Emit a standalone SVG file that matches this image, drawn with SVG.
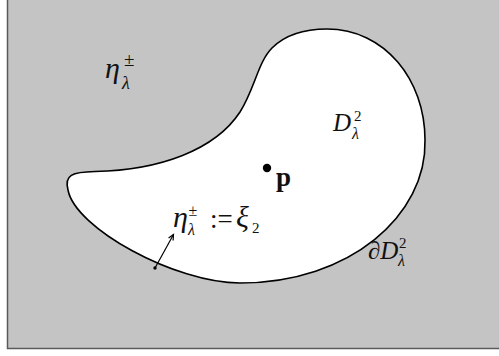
<svg xmlns="http://www.w3.org/2000/svg" width="499" height="356" viewBox="0 0 499 356">
<style>
text{font-family:"Liberation Serif","DejaVu Serif",serif;fill:#111}
.i{font-style:italic}
.conn{fill:none;stroke:#000;stroke-width:1.2}
</style>
<rect x="0" y="0" width="499" height="356" fill="#fff"/>
<g id="region">
<rect x="7.5" y="-5" width="500" height="353.5" fill="#c4c4c4" stroke="#5a5a5a" stroke-width="1.5"/>
</g>
<g id="domain">
<path d="M 327 29 C 385 29, 425 80, 425 140 C 427 215, 350 283, 240 283 C 175 283, 75 228, 68 190 C 64 175, 72 172, 95 171.5 C 160 170, 215 150, 240 112 C 255 88, 258 62, 272 48 C 285 35, 305 29, 327 29 Z" fill="#fff" stroke="#000" stroke-width="1.6"/>
</g>
<g id="point-p">
<circle cx="267" cy="168" r="4.2" fill="#000"/>
<text x="276" y="186" font-size="27" font-weight="bold">p</text>
</g>
<g id="label-outer">
<text><tspan class="i" x="105" y="78" font-size="30">η</tspan><tspan x="124" y="66" font-size="19">±</tspan><tspan class="i" x="122" y="89" font-size="18">λ</tspan></text>
</g>
<g id="label-D">
<text><tspan class="i" x="333" y="131" font-size="25">D</tspan><tspan x="354" y="121" font-size="15">2</tspan><tspan class="i" x="352" y="139" font-size="16">λ</tspan></text>
</g>
<g id="label-boundary">
<text><tspan class="i" x="368" y="259" font-size="25">∂D</tspan><tspan x="399" y="248" font-size="15">2</tspan><tspan class="i" x="398" y="266" font-size="16">λ</tspan></text>
</g>
<g id="label-normal">
<text><tspan class="i" x="173" y="227" font-size="30">η</tspan><tspan x="188.5" y="216" font-size="16">±</tspan><tspan class="i" x="188" y="235" font-size="16">λ</tspan><tspan x="210" y="228" font-size="27">:=</tspan><tspan class="i" x="236" y="227" font-size="30">ξ</tspan><tspan x="252" y="233" font-size="15">2</tspan></text>
</g>
<g id="connectors">
<circle cx="155" cy="268" r="1.7" fill="#000"/>
<line class="conn" x1="155" y1="268" x2="173.5" y2="234.5"/>
<polyline class="conn" points="168.6,238 173.5,234.5 173.1,240.5"/>
</g>
</svg>
